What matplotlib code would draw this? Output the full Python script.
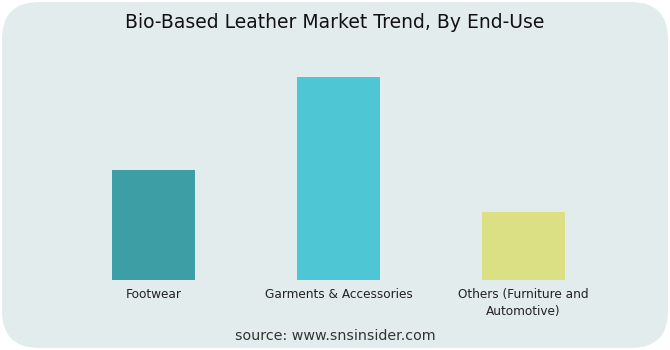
import matplotlib.pyplot as plt
from matplotlib.patches import FancyBboxPatch

# End-use segments and relative market share
segments = ['Footwear', 'Garments & Accessories', 'Others (Furniture and\nAutomotive)']
values = [5.4, 10.0, 3.35]
colors = ['#3d9ea6', '#4ec6d3', '#dbe084']

fig = plt.figure(figsize=(6.7, 3.5), dpi=100, facecolor='white')

# rounded panel behind everything
panel = FancyBboxPatch((0.003, 0.006), 0.994, 0.988,
                       boxstyle='round,pad=0,rounding_size=0.055',
                       transform=fig.transFigure, facecolor='#e3ecec',
                       edgecolor='none', mutation_aspect=670 / 350, zorder=-5)
fig.patches.append(panel)

ax = fig.add_axes([61 / 670, 70 / 350, 555 / 670, 250 / 350])
ax.set_facecolor('none')
ax.bar(range(len(segments)), values, width=0.45, color=colors)
ax.set_xlim(-0.5, 2.5)
ax.set_ylim(0, 10.0 * 250 / 203)

for s in ax.spines.values():
    s.set_visible(False)
ax.set_yticks([])
ax.set_xticks(range(len(segments)))
ax.set_xticklabels(segments, fontsize=8.7, color='#222222', family='DejaVu Sans',
                   linespacing=1.35)
ax.tick_params(axis='x', length=0, pad=6)

fig.text(0.5, 1 - 22 / 350, 'Bio-Based Leather Market Trend, By End-Use',
         ha='center', va='center', fontsize=13.5, color='#111111', family='DejaVu Sans')
fig.text(0.5, 1 - 336 / 350, 'source: www.snsinsider.com',
         ha='center', va='center', fontsize=10.3, color='#333333', family='DejaVu Sans')

fig.savefig('out.png', dpi=100, facecolor='white')
